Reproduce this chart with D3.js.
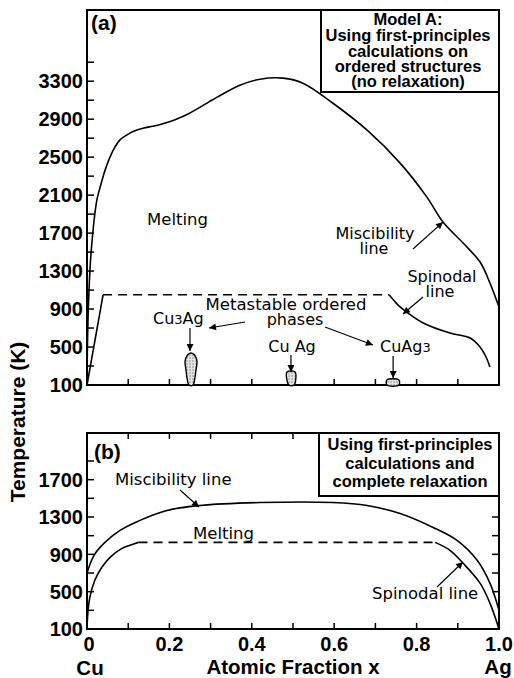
<!DOCTYPE html>
<html>
<head>
<meta charset="utf-8">
<script src="https://cdn.jsdelivr.net/npm/d3@7"></script>
<style>
  html, body { margin: 0; padding: 0; background: #fff; }
  svg { display: block; }
  text { font-family: "Liberation Sans", Arial, Helvetica, sans-serif; fill: #000; }
  text.note { font-family: "DejaVu Sans", "Liberation Sans", sans-serif; }
</style>
</head>
<body>
<svg id="chart" width="514" height="678"></svg>
<script>
// ---- Panel (a): Model A, ordered structures without relaxation ----
const missA = [ // [x, T]
  [0.000, 100], [0.001, 500], [0.004, 1000], [0.010, 1500], [0.024, 2049],
  [0.032, 2186], [0.044, 2365], [0.056, 2503], [0.068, 2608], [0.080, 2682],
  [0.097, 2734], [0.112, 2770], [0.136, 2805], [0.160, 2825], [0.184, 2852],
  [0.200, 2874], [0.218, 2903], [0.243, 2950], [0.262, 2995], [0.280, 3040],
  [0.298, 3087], [0.316, 3132], [0.371, 3258], [0.420, 3321], [0.476, 3332],
  [0.524, 3279], [0.597, 3068], [0.680, 2784], [0.760, 2437], [0.825, 2079],
  [0.864, 1816], [0.913, 1595], [0.954, 1395], [0.978, 1174], [1.000, 921]
];
const spinALeft = [[0.000, 100], [0.039, 1050]];
const meltA = [[0.039, 1050], [0.733, 1050]];
const spinARight = [
  [0.733, 1050], [0.745, 990], [0.755, 942], [0.779, 858], [0.816, 753],
  [0.881, 647], [0.930, 595], [0.954, 500], [0.968, 400], [0.978, 289]
];
// metastable ordered phase pockets
const cu3agPocket = [
  [0.2476, 100], [0.2425, 180], [0.2403, 258], [0.2379, 342], [0.2400, 385],
  [0.2450, 420], [0.2524, 437], [0.2600, 420], [0.2650, 385], [0.2670, 342],
  [0.2646, 258], [0.2620, 180], [0.2573, 100]
];
const cuagPocket = [[0.4903, 100], [0.4854, 237], [0.5049, 237], [0.5024, 100]];
const cuag3Pocket = [[0.728, 100], [0.728, 153], [0.757, 153], [0.757, 100]];

const ticksA = [100, 500, 900, 1300, 1700, 2100, 2500, 2900, 3300];
const minorA = [300, 700, 1100, 1500, 1900, 2300, 2700, 3100, 3500];

// ---- Panel (b): first-principles with complete relaxation ----
const missB = [
  [0.000, 700], [0.017, 889], [0.041, 1017], [0.080, 1156], [0.112, 1231],
  [0.194, 1369], [0.274, 1423], [0.420, 1455], [0.597, 1455], [0.680, 1423],
  [0.760, 1337], [0.840, 1188], [0.898, 1049], [0.947, 836], [0.978, 591],
  [1.000, 300]
];
const spinBLeft = [
  [0.000, 100], [0.002, 270], [0.007, 441], [0.019, 623], [0.036, 761],
  [0.056, 868], [0.085, 964], [0.117, 1017], [0.125, 1028]
];
const meltB = [[0.125, 1028], [0.845, 1028]];
const spinBRight = [
  [0.845, 1028], [0.881, 943], [0.913, 804], [0.954, 591], [0.978, 377], [1.000, 100]
];
const ticksB = [100, 500, 900, 1300, 1700];
const minorB = [300, 700, 1100, 1500, 1900];
const rightTicksB = [500, 700, 900, 1100, 1300];

const xTickValues = [0, 0.2, 0.4, 0.6, 0.8, 1.0];
const xTickLabels = ["0", "0.2", "0.4", "0.6", "0.8", "1.0"];
const xMinor = [0.1, 0.2, 0.3, 0.4, 0.5, 0.6, 0.7, 0.8, 0.9];

// ---- drawing ----
const svg = d3.select("#chart");
const X0 = 87, X1 = 499;
const x = d3.scaleLinear().domain([0, 1]).range([X0, X1]);
const yA = d3.scaleLinear().domain([100, 4050]).range([385, 10]);
const yB = d3.scaleLinear().domain([100, 2200]).range([629, 433]);
const px = p => x.invert(p); // pixel column -> composition, for annotation anchors

const defs = svg.append("defs");
defs.append("marker")
  .attr("id", "arrow").attr("viewBox", "0 0 10 10")
  .attr("refX", 10).attr("refY", 5)
  .attr("markerWidth", 9).attr("markerHeight", 7)
  .attr("markerUnits", "userSpaceOnUse")
  .attr("orient", "auto")
  .append("path").attr("d", "M0,0 L10,5 L0,10 Z").attr("fill", "#000");
const pat = defs.append("pattern").attr("id", "stipple")
  .attr("width", 3).attr("height", 3).attr("patternUnits", "userSpaceOnUse");
pat.append("rect").attr("width", 3).attr("height", 3).attr("fill", "#e4e4e4");
pat.append("circle").attr("cx", 1).attr("cy", 1).attr("r", 0.7).attr("fill", "#777");

function curve(y, data, dashed) {
  const line = d3.line().x(d => x(d[0])).y(d => y(d[1]))
    .curve(dashed ? d3.curveLinear : d3.curveCatmullRom.alpha(0.5));
  const p = svg.append("path").datum(data).attr("d", line)
    .attr("fill", "none").attr("stroke", "#000").attr("stroke-width", 1.6);
  if (dashed) p.attr("stroke-dasharray", "9,6");
  return p;
}
function pocket(y, data) {
  const line = d3.line().x(d => x(d[0])).y(d => y(d[1])).curve(d3.curveCatmullRomClosed);
  svg.append("path").datum(data).attr("d", line)
    .attr("fill", "url(#stipple)").attr("stroke", "#000").attr("stroke-width", 1.4);
}
function arrow(y, from, to) {
  svg.append("line")
    .attr("x1", x(from[0])).attr("y1", y(from[1]))
    .attr("x2", x(to[0])).attr("y2", y(to[1]))
    .attr("stroke", "#000").attr("stroke-width", 1.2)
    .attr("marker-end", "url(#arrow)");
}
function label(tx, ty, str, opts = {}) {
  return svg.append("text").attr("x", tx).attr("y", ty)
    .attr("class", opts.bold ? null : "note")
    .attr("font-size", opts.size || 16)
    .attr("font-weight", opts.bold ? "bold" : "normal")
    .attr("text-anchor", opts.anchor || "start")
    .text(str);
}
function frame(yTop, yBot) {
  svg.append("rect").attr("x", X0).attr("y", yTop)
    .attr("width", X1 - X0).attr("height", yBot - yTop)
    .attr("fill", "none").attr("stroke", "#000").attr("stroke-width", 2);
}
function yAxisTicks(y, major, minor, tickLen) {
  const all = major.concat(minor);
  svg.append("g").selectAll("line").data(all).join("line")
    .attr("x1", X0).attr("x2", X0 + tickLen)
    .attr("y1", d => y(d)).attr("y2", d => y(d))
    .attr("stroke", "#000").attr("stroke-width", 1.5);
  svg.append("g").selectAll("text").data(major).join("text")
    .attr("x", X0 - 4).attr("y", d => y(d)).attr("dy", "0.36em")
    .attr("text-anchor", "end").attr("font-size", 20).attr("font-weight", "bold")
    .text(d => d);
}
function xTicks(yPix, dir) {
  svg.append("g").selectAll("line").data(xMinor).join("line")
    .attr("x1", d => x(d)).attr("x2", d => x(d))
    .attr("y1", yPix).attr("y2", yPix + dir * 6)
    .attr("stroke", "#000").attr("stroke-width", 1.5);
}

// Panel (a)
frame(10, 385);
yAxisTicks(yA, ticksA, minorA, 7);
xTicks(385, -1);
curve(yA, missA);
curve(yA, spinALeft);
curve(yA, meltA, true);
curve(yA, spinARight);
pocket(yA, cu3agPocket);
pocket(yA, cuagPocket);
pocket(yA, cuag3Pocket);

label(91, 30, "(a)", { size: 21, bold: true });
svg.append("rect").attr("x", 321).attr("y", 10).attr("width", 178).attr("height", 82)
  .attr("fill", "#fff").attr("stroke", "#000").attr("stroke-width", 2);
[["Model A:", 25], ["Using first-principles", 41], ["calculations on", 57],
 ["ordered structures", 72], ["(no relaxation)", 87]].forEach(([s, by]) =>
  label(408, by, s, { size: 16.5, bold: true, anchor: "middle" }));

label(147, 225, "Melting", { size: 16.5 });
label(375, 239, "Miscibility", { anchor: "middle" });
label(374, 254, "line", { anchor: "middle" });
arrow(yA, [px(413), yA.invert(249)], [0.864, 1816]);
label(442, 282, "Spinodal", { anchor: "middle" });
label(440, 297, "line", { anchor: "middle" });
arrow(yA, [px(423), yA.invert(297)], [px(403), yA.invert(314)]);
label(286, 310, "Metastable ordered", { size: 16.5, anchor: "middle" });
label(295, 325, "phases", { anchor: "middle" });
arrow(yA, [px(245), yA.invert(322)], [px(209), yA.invert(328)]);
arrow(yA, [px(325), yA.invert(327)], [px(373), yA.invert(345)]);

const cu3 = label(153, 324, "Cu");
cu3.append("tspan").attr("font-size", 13).text("3");
cu3.append("tspan").text("Ag");
arrow(yA, [0.25, yA.invert(328)], [0.25, yA.invert(351)]);
label(292, 352, "Cu Ag", { anchor: "middle" });
arrow(yA, [0.495, yA.invert(355)], [0.495, yA.invert(372)]);
const cuag3 = label(380, 352, "CuAg");
cuag3.append("tspan").attr("font-size", 13).text("3");
arrow(yA, [0.743, yA.invert(356)], [0.743, yA.invert(378)]);

// Panel (b)
frame(433, 629);
yAxisTicks(yB, ticksB, minorB, 7);
xTicks(629, -1);
xTicks(433, 1);
svg.append("g").selectAll("line").data(rightTicksB).join("line")
  .attr("x1", X1).attr("x2", X1 - 7)
  .attr("y1", d => yB(d)).attr("y2", d => yB(d))
  .attr("stroke", "#000").attr("stroke-width", 1.5);
curve(yB, missB);
curve(yB, spinBLeft);
curve(yB, meltB, true);
curve(yB, spinBRight);

label(94, 459, "(b)", { size: 21, bold: true });
svg.append("rect").attr("x", 319).attr("y", 433).attr("width", 180).attr("height", 63)
  .attr("fill", "#fff").attr("stroke", "#000").attr("stroke-width", 2);
[["Using first-principles", 450], ["calculations and", 469], ["complete relaxation", 487]]
  .forEach(([s, by]) => label(410, by, s, { size: 16.5, bold: true, anchor: "middle" }));

label(115, 485, "Miscibility line", { size: 16.5 });
arrow(yB, [px(180), yB.invert(490)], [px(199), yB.invert(507)]);
label(193, 539, "Melting", { size: 16.5 });
label(372, 599, "Spinodal line", { size: 16.5 });
arrow(yB, [px(437), yB.invert(587)], [px(463), yB.invert(562)]);

// x tick labels and titles
svg.append("g").selectAll("text").data(xTickValues).join("text")
  .attr("x", d => x(d) + (d === 0 ? 2 : 0)).attr("y", 651)
  .attr("text-anchor", "middle").attr("font-size", 20).attr("font-weight", "bold")
  .text((d, i) => xTickLabels[i]);
label(90, 675, "Cu", { size: 20.5, bold: true, anchor: "middle" });
label(293, 674, "Atomic Fraction x", { size: 20.5, bold: true, anchor: "middle" });
label(498, 674, "Ag", { size: 20.5, bold: true, anchor: "middle" });
svg.append("text")
  .attr("transform", "translate(25,422) rotate(-90)")
  .attr("text-anchor", "middle").attr("font-size", 21).attr("font-weight", "bold")
  .text("Temperature (K)");
</script>
</body>
</html>
